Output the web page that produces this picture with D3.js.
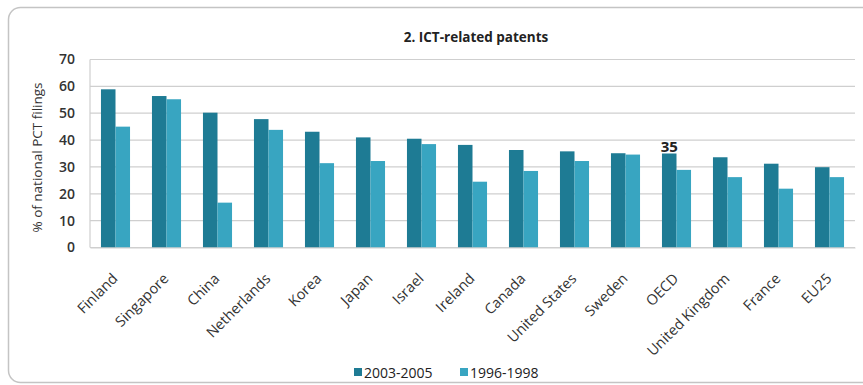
<!DOCTYPE html>
<html>
<head>
<meta charset="utf-8">
<script src="https://cdn.jsdelivr.net/npm/d3@7"></script>
<style>
  html, body { margin: 0; padding: 0; background: #fff; }
  svg { display: block; font-family: "Open Sans", "Liberation Sans", sans-serif; }
</style>
</head>
<body>
<svg id="chart" width="863" height="385"></svg>
<script>
const categories = ["Finland", "Singapore", "China", "Netherlands", "Korea", "Japan", "Israel",
  "Ireland", "Canada", "United States", "Sweden", "OECD", "United Kingdom", "France", "EU25"];
const series2003 = [58.9, 56.4, 50.2, 47.8, 43.1, 41.0, 40.5, 38.2, 36.3, 35.8, 35.1, 35, 33.6, 31.2, 29.9];
const series1996 = [45.0, 55.2, 16.7, 43.8, 31.4, 32.2, 38.5, 24.5, 28.5, 32.2, 34.6, 28.9, 26.2, 21.9, 26.2];
const seriesNames = ["2003-2005", "1996-1998"];
const yTicks = [0, 10, 20, 30, 40, 50, 60, 70];
const labelled = { category: "OECD", series: 0, text: "35" };

const FONT = '"Open Sans", "Liberation Sans", sans-serif';
const colors = ["#1e7b94", "#38a5c1"];
const svg = d3.select("#chart");
const margin = { left: 90, right: 8, top: 59.5, bottom: 137.5 };
const W = 863, H = 385;
const innerW = W - margin.left - margin.right;
const innerH = H - margin.top - margin.bottom;

// outer frame
svg.append("rect")
  .attr("x", 8.5).attr("y", 7.5).attr("width", 880).attr("height", 375)
  .attr("rx", 12).attr("fill", "none").attr("stroke", "#c4c4c4").attr("stroke-width", 1.5);

svg.append("text")
  .attr("x", 476).attr("y", 42)
  .attr("text-anchor", "middle").attr("font-weight", 700).attr("font-size", 13.5)
  .attr("fill", "#222").text("2. ICT-related patents");

const g = svg.append("g").attr("transform", `translate(${margin.left},${margin.top})`);

const x = d3.scaleBand().domain(categories).range([0, innerW]).paddingInner(0.43).paddingOuter(0.215);
const x1 = d3.scaleBand().domain([0, 1]).range([0, x.bandwidth()]);
const y = d3.scaleLinear().domain([0, 70]).range([innerH, 0]);

// gridlines
g.append("g").selectAll("line").data(yTicks).join("line")
  .attr("x1", 0).attr("x2", innerW)
  .attr("y1", d => y(d)).attr("y2", d => y(d))
  .attr("stroke", "#cfcfcf").attr("stroke-width", 1.2);
g.append("line").attr("x1", 0).attr("x2", 0).attr("y1", 0).attr("y2", innerH)
  .attr("stroke", "#cfcfcf").attr("stroke-width", 1.2);

// y axis
const yAxis = g.append("g").call(d3.axisLeft(y).tickValues(yTicks).tickSize(0).tickPadding(15))
  .attr("font-family", FONT);
yAxis.select(".domain").remove();
yAxis.selectAll("text").attr("font-size", 14).attr("fill", "#333").attr("font-weight", 600);

svg.append("text")
  .attr("transform", `translate(42,${margin.top + innerH / 2 + 4}) rotate(-90)`)
  .attr("text-anchor", "middle").attr("font-size", 13.5).attr("fill", "#333")
  .text("% of national PCT filings");

// bars
const rows = categories.map((c, i) => ({ c, v: [series2003[i], series1996[i]] }));
const grp = g.append("g").selectAll("g").data(rows).join("g")
  .attr("transform", d => `translate(${x(d.c)},0)`);
grp.selectAll("rect").data(d => d.v.map((v, k) => ({ v, k }))).join("rect")
  .attr("x", d => x1(d.k)).attr("width", x1.bandwidth())
  .attr("y", d => y(d.v)).attr("height", d => innerH - y(d.v))
  .attr("fill", d => colors[d.k]);

// value label
const li = categories.indexOf(labelled.category);
g.append("text")
  .attr("x", x(labelled.category) + x1(labelled.series) + x1.bandwidth() / 2)
  .attr("y", y([series2003, series1996][labelled.series][li]) - 2)
  .attr("text-anchor", "middle").attr("font-size", 15).attr("font-weight", 700).attr("fill", "#222")
  .text(labelled.text);

// x axis labels
const xAxis = g.append("g").attr("transform", `translate(0,${innerH})`)
  .call(d3.axisBottom(x).tickSize(0).tickPadding(0))
  .attr("font-family", FONT);
xAxis.select(".domain").attr("stroke", "#cfcfcf").attr("stroke-width", 1.2);
xAxis.selectAll("text")
  .attr("font-size", 14.5).attr("fill", "#333")
  .attr("text-anchor", "end").attr("dy", 0)
  .attr("transform", "translate(3,32) rotate(-45)");

// legend
const legend = svg.append("g");
const lx = [354, 460];
seriesNames.forEach((n, k) => {
  legend.append("rect").attr("x", lx[k]).attr("y", 368).attr("width", 8).attr("height", 8).attr("fill", colors[k]);
  legend.append("text").attr("x", lx[k] + 10).attr("y", 378).attr("font-size", 14).attr("fill", "#222").text(n);
});
</script>
</body>
</html>
